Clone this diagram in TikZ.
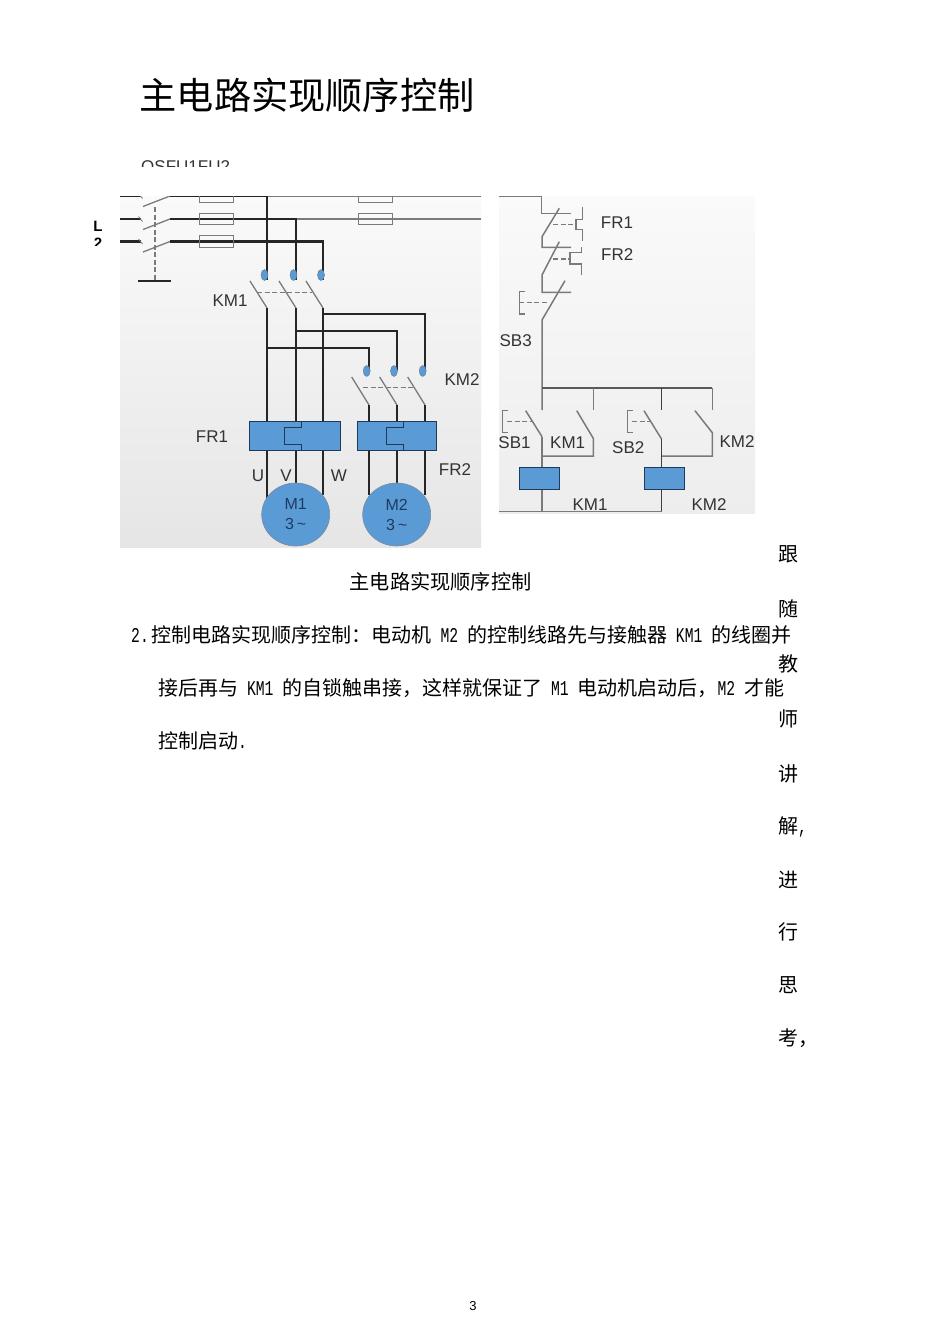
\documentclass[tikz,border=0pt]{standalone}
\usepackage{fontspec}
\setmainfont{Liberation Sans}
\newfontfamily\cjk{Noto Sans CJK SC}
\newfontfamily\hwfont{Liberation Mono}
\newcommand{\hw}[1]{\scalebox{.7}[1]{\hwfont\fontsize{21}{21}\selectfont #1}}
\usetikzlibrary{shapes.geometric}
\definecolor{coilblue}{HTML}{5B9BD5}
\definecolor{coilline}{HTML}{1F3A5F}
\definecolor{labelgray}{HTML}{333333}
\definecolor{wiregray}{HTML}{7A7A7A}
\tikzset{
	power/.style={line width=2.2pt,color=black!85},
	thinwire/.style={line width=1.3pt,color=wiregray},
	ctrl/.style={line width=1.5pt,color=wiregray},
	linkage/.style={line width=1.2pt,color=wiregray,dash pattern=on 5pt off 2.5pt},
	lbl/.style={font=\fontsize{17}{17}\selectfont,text=labelgray,inner sep=0pt},
	overload/.style={draw=coilline,line width=1pt,fill=coilblue,minimum height=28.6pt,inner sep=0pt},
	coil/.style={draw=coilline,line width=1pt,fill=coilblue,minimum width=40pt,minimum height=22pt,inner sep=0pt},
	motor/.style={ellipse,draw=coilline!60,line width=.6pt,fill=coilblue,minimum width=68pt,minimum height=63pt,inner sep=0pt,align=center,text=coilline,font=\fontsize{16}{20}\selectfont},
	fuse/.style={draw=wiregray,line width=1pt,minimum width=34pt,minimum height=11.5pt,inner sep=0pt},
	bodytext/.style={anchor=west,inner sep=0pt,font=\cjk\fontsize{20}{20}\selectfont,text=black},
	sidechar/.style={inner sep=0pt,font=\cjk\fontsize{20}{20}\selectfont,text=black},
}
\begin{document}
\begin{tikzpicture}[x=1pt,y=-1pt]
	\useasboundingbox (0,0) rectangle (950,1344);
	\fill[white] (0,0) rectangle (950,1344);
	% heading
	\node[anchor=west,inner sep=0pt,font=\cjk\fontsize{37.2}{37.2}\selectfont] (title) at (139.5,95) {主电路实现顺序控制};
	\begin{scope}
		\clip (130,150) rectangle (240,166);
		\node[anchor=base west,inner sep=0pt,font=\fontsize{17}{17}\selectfont,text=black!80] (qsfu) at (141,172) {OSFU1FU2};
	\end{scope}
	\begin{scope}
		\clip (85,215) rectangle (110,245);
		\node[inner sep=0pt,font=\bfseries\fontsize{15}{15}\selectfont] (lineL) at (98,226.5) {L};
		\node[inner sep=0pt,font=\bfseries\fontsize{15}{15}\selectfont] (lineTwo) at (98,243.5) {2};
	\end{scope}
	% main circuit
	\begin{scope}
		\clip (120,196) rectangle (481,547);
		\shade[top color=black!2,bottom color=black!10] (120,196) rectangle (481,547);
		\foreach \y in {196,219,241.5} {
			\draw[power] (120,\y) -- (141,\y);
			\draw[wiregray,line width=.8pt] (138.5,\y-2.5) -- (142.5,\y+2.5);
			\draw[thinwire] (143,\y+10.5) -- (170,\y);
		}
		\draw[linkage] (155,207) -- (155,281);
		\draw[line width=2pt,color=black!85] (138,281) -- (171,281);
		\draw[thinwire] (267,196) -- (481,196);
		\draw[thinwire] (296,219) -- (481,219);
		\draw[power] (170,196) -- (267,196) -- (267,280);
		\draw[power] (170,219) -- (296,219) -- (296,280);
		\draw[power] (170,241.5) -- (323,241.5) -- (323,280);
		\node[fuse] (fuA) at (216,196.5) {};
		\node[fuse] (fuB) at (216,219) {};
		\node[fuse] (fuC) at (216,241.5) {};
		\node[fuse] (fuD) at (375,196.5) {};
		\node[fuse] (fuE) at (375,219) {};
		\foreach \x in {264.5,293.5,321} \fill[coilblue,draw=coilline!70,line width=.4pt] (\x,275) ellipse [x radius=3.5,y radius=5.5];
		\foreach \x in {267,296,323} \draw[thinwire] (\x-17,281) -- (\x,308);
		\draw[linkage] (257,292.7) -- (312,292.7);
		\node[lbl] (kmA) at (230,301) {KM1};
		% branch to second contactor
		\draw[power] (323,308) -- (323,421);
		\draw[power] (296,308) -- (296,421);
		\draw[power] (267,308) -- (267,421);
		\draw[power] (323,314) -- (425,314) -- (425,370);
		\draw[power] (296,331) -- (397,331) -- (397,370);
		\draw[power] (267,348) -- (369,348) -- (369,370);
		\foreach \x in {366.7,394,422.7} \fill[coilblue,draw=coilline!70,line width=.4pt] (\x,371) ellipse [x radius=3.5,y radius=5.5];
		\foreach \x in {369,397,425} {
			\draw[thinwire] (\x-17.3,377) -- (\x,405);
			\draw[power] (\x,405) -- (\x,422);
		}
		\draw[linkage] (363,387.7) -- (415,387.7);
		\node[lbl] (kmB) at (462,380) {KM2};
		% leads to the motors
		\draw[power] (267,450) -- (267,498);
		\draw[power] (296,450) -- (296,484);
		\draw[power] (323,450) -- (323,495);
		\draw[power] (369,450) -- (369,495);
		\draw[power] (397,450) -- (397,484);
		\draw[power] (425,450) -- (425,495);
		\node[overload,minimum width=91.4pt] (frA) at (295,436) {};
		\node[overload,minimum width=79.4pt] (frB) at (397,436) {};
		\draw[coilline,line width=1pt] (301.7,421.7) -- (301.7,427.7) -- (284,427.7) -- (284,444) -- (301.7,444) -- (301.7,450.3);
		\draw[coilline,line width=1pt] (403.3,421.7) -- (403.3,427.7) -- (386,427.7) -- (386,444) -- (403.3,444) -- (403.3,450.3);
		\node[lbl] (frAlbl) at (212,436.5) {FR1};
		\node[lbl] (frBlbl) at (455,470) {FR2};
		\node[lbl] (phU) at (258,476) {U};
		\node[lbl] (phV) at (286,476) {V};
		\node[lbl] (phW) at (339,476) {W};
		\node[motor] (mA) at (295.7,514.5) {M1\\3\,\textasciitilde};
		\node[motor] (mB) at (396.7,514.5) {M2\\3\,\textasciitilde};
	\end{scope}
	% control circuit
	\begin{scope}
		\clip (499,196) rectangle (755,513);
		\shade[top color=black!2,bottom color=black!7] (499,196) rectangle (755,513);
		\draw[ctrl] (499,196.5) -- (541.7,196.5) -- (541.7,213.3) -- (571,213.3);
		\draw[ctrl] (559.3,208.3) -- (542,236.7) -- (542,247.3) -- (571,247.3);
		\draw[ctrl] (559.3,241.7) -- (542,275) -- (542,292.3) -- (571,292.3);
		\draw[ctrl] (565,280.7) -- (542,320) -- (542,410);
		\draw[linkage] (553.3,224.3) -- (576,224.3);
		\draw[ctrl] (582.3,207.3) -- (582.3,219.3) -- (576,219.3) -- (576,229.3) -- (582.3,229.3) -- (582.3,240.7);
		\draw[linkage] (553.3,259) -- (570,259);
		\draw[ctrl] (581.7,247.3) -- (581.7,252.7) -- (570,252.7) -- (570,264) -- (581.7,264) -- (581.7,275);
		\draw[linkage] (519.3,302.7) -- (548.3,302.7);
		\draw[thinwire] (525,291.7) -- (519.3,291.7) -- (519.3,314) -- (525,314);
		\node[lbl] (frAc) at (617,222.3) {FR1};
		\node[lbl] (frBc) at (617.3,255) {FR2};
		\node[lbl] (sbC) at (515.7,341) {SB3};
		\draw[line width=1.7pt,color=black!65] (542,387.7) -- (712.3,387.7);
		\draw[ctrl] (593.3,387.7) -- (593.3,410);
		\draw[line width=1.5pt,color=black!75] (661.7,387.7) -- (661.7,410);
		\draw[ctrl] (712.3,387.7) -- (712.3,410);
		% start buttons and hold contacts
		\draw[ctrl] (525.7,410.7) -- (542,436.7);
		\draw[linkage] (507,421.7) -- (533.3,421.7);
		\draw[thinwire] (507.7,410.7) -- (502.3,410.7) -- (502.3,432.7) -- (507.7,432.7);
		\draw[ctrl] (576.7,410.7) -- (593.3,438.3) -- (593.3,456) -- (542,456);
		\draw[ctrl] (644,410.7) -- (661.7,439.3);
		\draw[linkage] (632,421.7) -- (650,421.7);
		\draw[thinwire] (632.7,410.7) -- (627.3,410.7) -- (627.3,432.7) -- (632.7,432.7);
		\draw[ctrl] (695,410.7) -- (712.3,432.7) -- (712.3,456) -- (661.7,456);
		\draw[ctrl] (542,436.7) -- (542,511.7);
		\draw[line width=1.5pt,color=black!75] (661.7,439.3) -- (661.7,511.7);
		\draw[ctrl] (499,511.7) -- (661.7,511.7);
		\node[coil] (coilA) at (539.2,478.3) {};
		\node[coil] (coilB) at (664.2,478.3) {};
		\node[lbl] (sbA) at (514.5,442.7) {SB1};
		\node[lbl] (kmAc) at (567.7,442.7) {KM1};
		\node[lbl] (sbB) at (628.3,447.7) {SB2};
		\node[lbl] (kmBc) at (737,441.7) {KM2};
		\node[lbl] (kmAs) at (590,505) {KM1};
		\node[lbl] (kmBs) at (709,504.3) {KM2};
	\end{scope}
	% caption and paragraph
	\node[bodytext,font=\cjk\fontsize{20.2}{20.2}\selectfont] (cap) at (349.5,582) {主电路实现顺序控制};
	\node[bodytext] (paraA) at (131,635) {\hw{2.}\hspace{3pt}控制电路实现顺序控制：电动机\hw{\ M2\ }的控制线路先与接触器\hw{\ KM1\ }的线圈并};
	\node[bodytext] (paraB) at (158,688) {接后再与\hw{\ KM1\ }的自锁触串接，这样就保证了\hw{\ M1\ }电动机启动后，\hw{M2\ }才能};
	\node[bodytext] (paraC) at (158,741) {控制启动\hw{.}};
	% side column
	\foreach \ch/\y [count=\i] in {跟/554,随/609,教/664,师/719,讲/774,进/880,行/932,思/985} {
		\node[sidechar] (side\i) at (788,\y) {\ch};
	}
	\node[sidechar,anchor=west] (sideJie) at (778,827) {解\hw{,}};
	\node[sidechar,anchor=west] (sideKao) at (778,1038) {考，};
	\node[inner sep=0pt,font=\fontsize{13}{13}\selectfont] (pageno) at (473,1306) {3};
\end{tikzpicture}
\end{document}
